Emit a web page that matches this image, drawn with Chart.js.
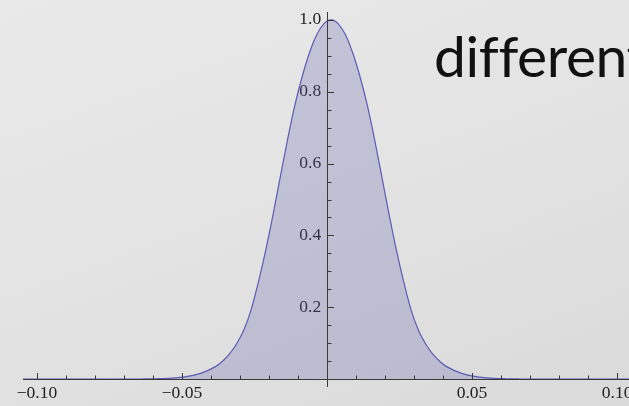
<!DOCTYPE html>
<html>
<head>
<meta charset="utf-8">
<script src="https://cdn.jsdelivr.net/npm/chart.js@4"></script>
<style>
  html, body { margin: 0; padding: 0; }
  body {
    width: 629px;
    height: 406px;
    overflow: hidden;
    position: relative;
    background: linear-gradient(160deg, #e9e9e9 0%, #e3e3e3 50%, #dadada 100%);
  }
  #chart { position: absolute; left: 0; top: 0; }
  #caption {
    position: absolute;
    left: 434px;
    top: 21px;
    font-family: 'Lato', sans-serif;
    font-size: 57px;
    letter-spacing: -0.4px;
    color: #111;
    white-space: nowrap;
  }
</style>
</head>
<body>
<canvas id="chart" width="629" height="406"></canvas>
<div id="caption">different</div>
<script>
// curve (peak sits a little right of zero)
const xValues = [-0.1048, -0.09, -0.08, -0.0686, -0.0636, -0.0586, -0.0536, -0.0486, -0.0436, -0.0386,
    -0.0361, -0.0336, -0.0311, -0.0286, -0.0261, -0.0236, -0.0211, -0.0186, -0.0161, -0.0136,
    -0.0111, -0.0086, -0.0061, -0.0036, -0.0011, 0.0014, 0.0039, 0.0064, 0.0089, 0.0114,
    0.0139, 0.0164, 0.0189, 0.0214, 0.0239, 0.0264, 0.0289, 0.0314, 0.0339, 0.0364,
    0.0389, 0.0414, 0.0464, 0.0514, 0.0564, 0.0614, 0.0664, 0.0714, 0.085, 0.1041];
const yValues = [0, 0, 0, 0, 0.0003, 0.001, 0.0028, 0.007, 0.016, 0.034,
    0.049, 0.070, 0.099, 0.138, 0.195, 0.272, 0.36, 0.458, 0.563, 0.667,
    0.762, 0.841, 0.907, 0.958, 0.989, 1.0, 0.989, 0.958, 0.907, 0.841,
    0.762, 0.667, 0.563, 0.458, 0.36, 0.272, 0.195, 0.138, 0.099, 0.070,
    0.049, 0.034, 0.016, 0.007, 0.0028, 0.001, 0.0003, 0, 0, 0];

const xTickValues = [-0.10, -0.05, 0.05, 0.10];
const xTickLabels = ['\u22120.10', '\u22120.05', '0.05', '0.10'];
const yTickValues = [0.2, 0.4, 0.6, 0.8, 1.0];
const yTickLabels = ['0.2', '0.4', '0.6', '0.8', '1.0'];

const COLORS = {
    line: '#5b5bb3',
    fill: 'rgba(98, 98, 178, 0.27)',
    axis: '#3a3a3a',
    text: '#222222'
};

// Mathematica style axes through the origin, ticks pointing inward
const axesPlugin = {
    id: 'originAxes',
    afterDatasetsDraw(chart) {
        const { ctx, chartArea, scales } = chart;
        const xs = scales.x;
        const ys = scales.y;
        const x0 = Math.round(xs.getPixelForValue(0)) + 0.5;
        const y0 = Math.round(ys.getPixelForValue(0)) + 0.5;

        ctx.save();
        ctx.strokeStyle = COLORS.axis;
        ctx.lineWidth = 1;

        ctx.beginPath();
        ctx.moveTo(chartArea.left, y0);
        ctx.lineTo(chartArea.right, y0);
        ctx.moveTo(x0, chartArea.top);
        ctx.lineTo(x0, chartArea.bottom);
        ctx.stroke();

        ctx.beginPath();
        for (let i = -10; i <= 10; i++) {
            if (i === 0) continue;
            const px = Math.round(xs.getPixelForValue(i / 100)) + 0.5;
            if (px < chartArea.left || px > chartArea.right) continue;
            const len = (i % 5 === 0) ? 6.5 : 4;
            ctx.moveTo(px, y0);
            ctx.lineTo(px, y0 - len);
        }
        for (let i = 1; i <= 20; i++) {
            const py = Math.round(ys.getPixelForValue(i / 20)) + 0.5;
            const len = (i % 4 === 0) ? 6.5 : 4;
            ctx.moveTo(x0, py);
            ctx.lineTo(x0 + len, py);
        }
        ctx.stroke();
        ctx.restore();
    }
};

const labelFont = { family: 'Liberation Serif', size: 17.5 };

const ctx = document.getElementById('chart').getContext('2d');
new Chart(ctx, {
    type: 'line',
    data: {
        datasets: [{
            data: xValues.map((x, i) => ({ x: x, y: yValues[i] })),
            borderColor: COLORS.line,
            borderWidth: 1.2,
            backgroundColor: COLORS.fill,
            fill: 'origin',
            pointRadius: 0,
            cubicInterpolationMode: 'monotone'
        }]
    },
    options: {
        responsive: false,
        animation: false,
        layout: { padding: { left: 23, right: 0, top: 12, bottom: 19 } },
        plugins: {
            legend: { display: false },
            tooltip: { enabled: false }
        },
        scales: {
            x: {
                type: 'linear',
                min: -0.1048,
                max: 0.1041,
                position: { y: 0 },
                grid: { display: false, drawTicks: false },
                border: { display: false },
                afterBuildTicks: (scale) => {
                    scale.ticks = xTickValues.map((v) => ({ value: v }));
                },
                afterFit: (scale) => {
                    scale.paddingLeft = 0;
                    scale.paddingRight = 0;
                },
                ticks: {
                    autoSkip: false,
                    maxRotation: 0,
                    padding: 4,
                    color: COLORS.text,
                    font: labelFont,
                    callback: (value) => {
                        const i = xTickValues.findIndex((v) => Math.abs(v - value) < 1e-9);
                        return i >= 0 ? xTickLabels[i] : '';
                    }
                }
            },
            y: {
                type: 'linear',
                min: -0.022,
                max: 1.022,
                position: { x: 0 },
                grid: { display: false, drawTicks: false },
                border: { display: false },
                afterBuildTicks: (scale) => {
                    scale.ticks = yTickValues.map((v) => ({ value: v }));
                },
                afterFit: (scale) => {
                    scale.paddingTop = 0;
                    scale.paddingBottom = 0;
                },
                ticks: {
                    autoSkip: false,
                    padding: 0,
                    color: COLORS.text,
                    font: labelFont,
                    // centre axis labels sit flush on the axis, pad them with a space
                    callback: (value) => {
                        const i = yTickValues.findIndex((v) => Math.abs(v - value) < 1e-9);
                        return i >= 0 ? yTickLabels[i] + ' \u200A' : '';
                    }
                }
            }
        }
    },
    plugins: [axesPlugin]
});
</script>
</body>
</html>
